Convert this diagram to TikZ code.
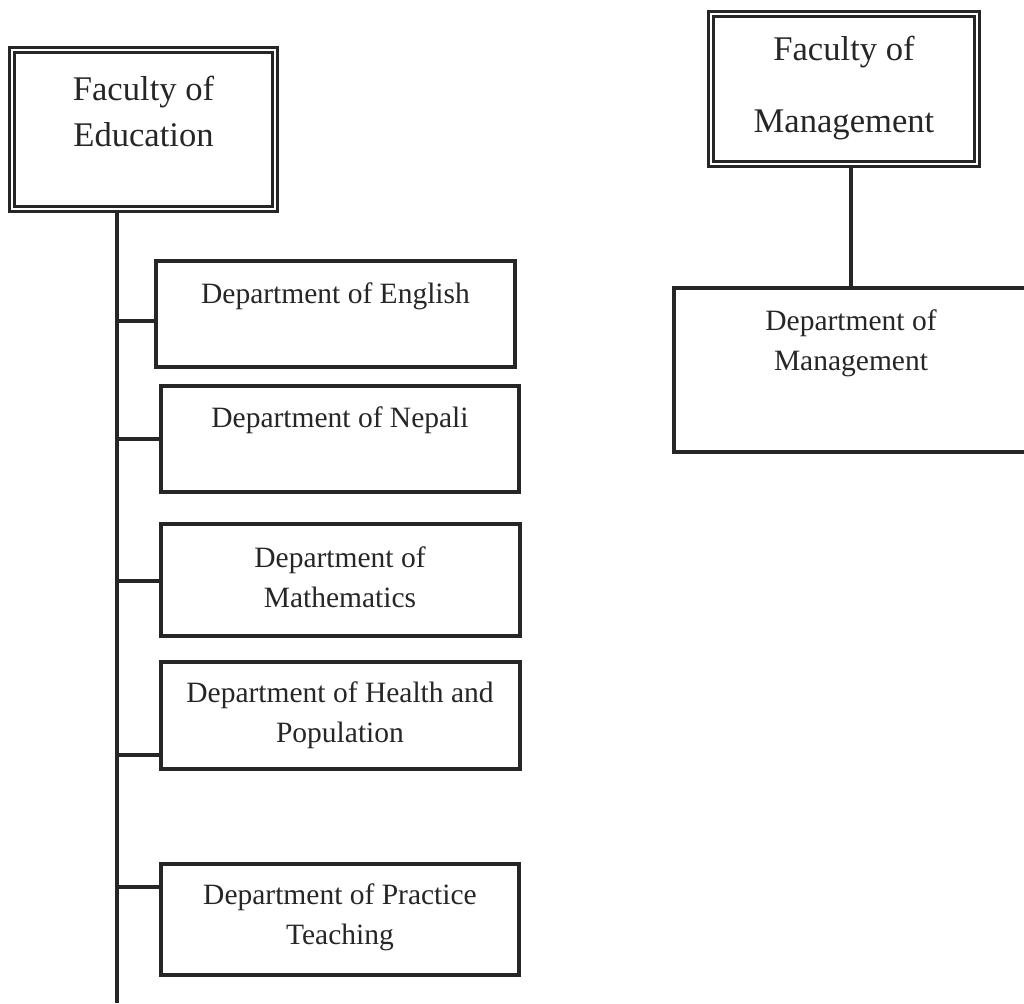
\documentclass[tikz,border=0pt]{standalone}
\usepackage{fontspec}
\setmainfont{Liberation Serif}
\usepackage{tikz}
\usetikzlibrary{positioning}
\definecolor{ink}{RGB}{38,38,38}
\tikzset{
  faculty/.style={rectangle,draw=ink,line width=1.1pt,double,double distance=1.4pt,
              inner sep=0pt,align=center,text=ink,font=\fontsize{17.3}{23}\selectfont},
  dept/.style={rectangle,draw=ink,line width=2pt,minimum width=179.5pt,
              inner sep=0pt,align=center,text=ink,font=\fontsize{14.75}{20}\selectfont},
  link/.style={draw=ink,line width=2pt},
}
\begin{document}
\begin{tikzpicture}[x=0.5pt,y=-0.5pt]
  \useasboundingbox (0,0) rectangle (1024,1003);
  % faculties
  \node[faculty,minimum width=131.5pt,minimum height=79.5pt,text depth=18.3pt] (fe) at (143.5,129.5) {Faculty of\\Education};
  \node[faculty,minimum width=133pt,minimum height=75pt,text depth=4.8pt] (fm) at (844,89) {Faculty of\\[13pt]Management};
  % departments under education
  \node[dept,minimum height=53pt,text depth=21pt] (eng) at (335.5,314) {Department of English};
  \node[dept,minimum width=179pt,minimum height=53pt,text depth=22pt,below=7.5pt of eng,xshift=2.25pt] (nep) {Department of Nepali};
  \node[dept,minimum height=56pt,text depth=3pt,below=14pt of nep] (math) {Department of\\Mathematics};
  \node[dept,minimum height=53.5pt,text depth=3pt,below=11pt of math] (hp) {Department of Health and\\Population};
  \node[dept,minimum width=179pt,minimum height=55.5pt,text depth=5pt,below=45.5pt of hp] (pt) {Department of Practice\\Teaching};
  % department under management
  \node[dept,minimum width=177pt,minimum height=82pt,text depth=30pt,below=60.5pt of fm,xshift=3.5pt] (dm) {Department of\\Management};
  \coordinate (trunkend) at (117,1003);
  \draw[link] (fe.south -| trunkend) -- (trunkend);
  \foreach \d/\s in {eng/-3.5,nep/0,math/-0.5,hp/-19.75,pt/16.25}
    \draw[link] (fe.south -| trunkend) |- ([yshift=\s pt]\d.west);
  \draw[link] (fm.south -| dm.north) -- (dm.north);
\end{tikzpicture}
\end{document}
